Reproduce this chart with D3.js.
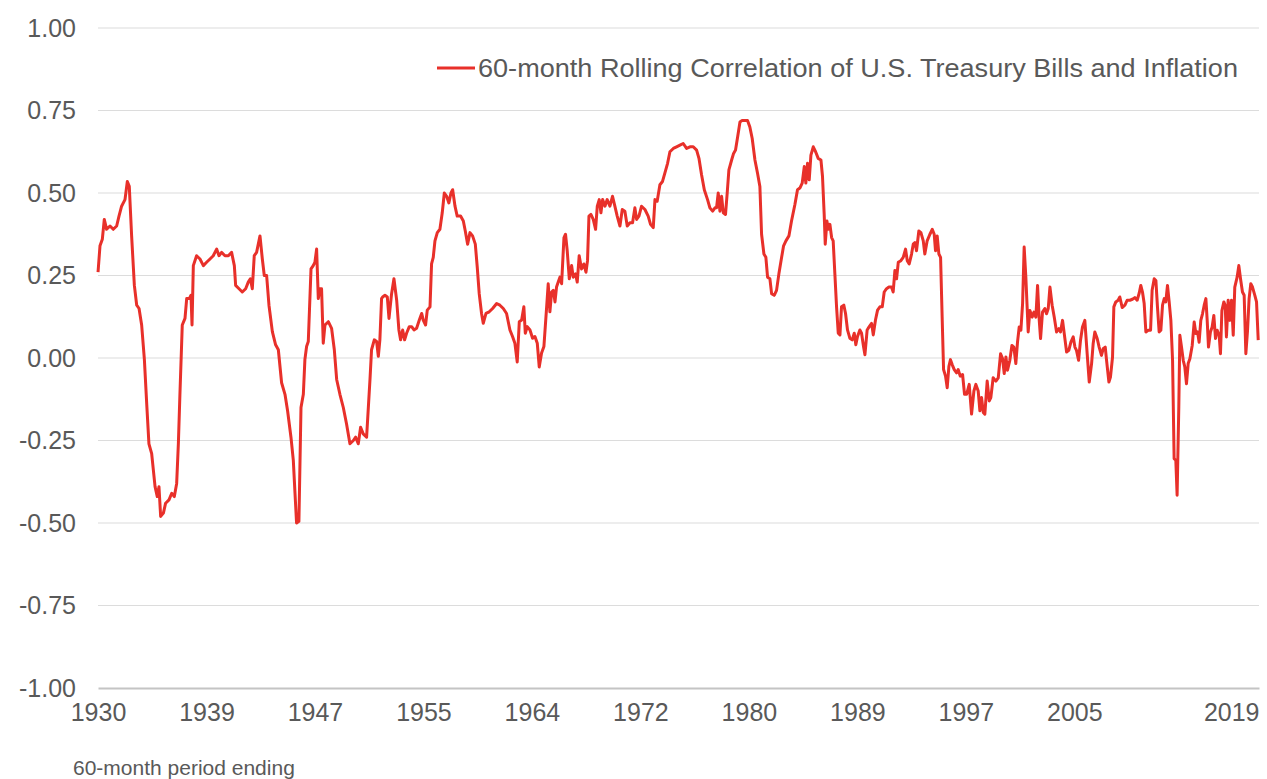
<!DOCTYPE html>
<html>
<head>
<meta charset="utf-8">
<script src="https://cdn.jsdelivr.net/npm/d3@7"></script>
<style>
  body { margin: 0; background: #fff; }
  svg { display: block; font-family: "Liberation Sans", Arial, sans-serif; }
</style>
</head>
<body>
<svg id="chart" width="1267" height="779"></svg>
<script>
// 60-month rolling correlation (decimal year of period end, value)
const years = [
  1930.92, 1931.07, 1931.25, 1931.40, 1931.58, 1931.84, 1932.09, 1932.35, 1932.53, 1932.73, 1932.99, 1933.17, 1933.32, 1933.50,
  1933.71, 1933.89, 1934.07, 1934.27, 1934.48, 1934.66, 1934.83, 1935.04, 1935.30, 1935.47, 1935.60, 1935.73, 1935.94, 1936.11,
  1936.37, 1936.58, 1936.78, 1936.96, 1937.09, 1937.21, 1937.39, 1937.60, 1937.73, 1937.93, 1938.06, 1938.14, 1938.24, 1938.49,
  1938.75, 1939.01, 1939.26, 1939.52, 1939.77, 1940.03, 1940.21, 1940.41, 1940.67, 1940.93, 1941.18, 1941.39, 1941.49, 1941.75,
  1942.00, 1942.26, 1942.46, 1942.62, 1942.77, 1942.92, 1943.10, 1943.36, 1943.54, 1943.69, 1943.87, 1944.05, 1944.31, 1944.56,
  1944.77, 1945.02, 1945.28, 1945.48, 1945.74, 1945.92, 1946.05, 1946.17, 1946.35, 1946.51, 1946.69, 1946.81, 1946.94, 1947.07,
  1947.28, 1947.45, 1947.58, 1947.71, 1947.84, 1947.97, 1948.09, 1948.22, 1948.35, 1948.61, 1948.86, 1949.07, 1949.25, 1949.50,
  1949.76, 1950.01, 1950.27, 1950.53, 1950.71, 1950.91, 1951.09, 1951.29, 1951.55, 1951.81, 1951.93, 1952.14, 1952.32, 1952.45,
  1952.57, 1952.70,
  1952.78, 1952.96, 1953.14, 1953.27, 1953.47, 1953.65, 1953.86, 1954.03, 1954.16, 1954.32, 1954.47, 1954.62, 1954.83, 1955.01,
  1955.19, 1955.39, 1955.60, 1955.78, 1955.90, 1956.08, 1956.21, 1956.42, 1956.54, 1956.67, 1956.80, 1956.98, 1957.18, 1957.36,
  1957.52, 1957.70, 1957.87, 1958.03, 1958.16, 1958.34, 1958.51, 1958.77, 1958.98, 1959.13, 1959.31, 1959.49, 1959.69, 1959.90,
  1960.05, 1960.20, 1960.38, 1960.51, 1960.72, 1960.97, 1961.23, 1961.54, 1961.79, 1962.05, 1962.30, 1962.56, 1962.76, 1962.94,
  1963.12, 1963.28, 1963.46, 1963.63, 1963.74, 1963.89, 1964.10, 1964.30, 1964.48, 1964.66, 1964.81, 1964.99, 1965.17, 1965.38,
  1965.50, 1965.63, 1965.76, 1965.89, 1966.02, 1966.14, 1966.27, 1966.40, 1966.53, 1966.71, 1966.83, 1966.96, 1967.12, 1967.30,
  1967.42, 1967.60, 1967.73, 1967.88, 1968.06, 1968.24, 1968.40, 1968.52, 1968.63, 1968.78, 1968.96, 1969.14, 1969.27, 1969.42,
  1969.55, 1969.68, 1969.86, 1970.03, 1970.24, 1970.44, 1970.62, 1970.80, 1971.01, 1971.19, 1971.39, 1971.57, 1971.78, 1971.98,
  1972.16, 1972.29, 1972.47, 1972.67, 1972.93, 1973.18, 1973.36, 1973.57, 1973.70, 1973.87, 1974.08, 1974.28, 1974.46,
  1974.67, 1974.85, 1975.11, 1975.36, 1975.62, 1975.87, 1976.13, 1976.39, 1976.64, 1976.90, 1977.08, 1977.28, 1977.49, 1977.74,
  1977.92, 1978.13, 1978.31, 1978.43, 1978.56, 1978.69, 1978.82, 1978.95, 1979.12, 1979.25, 1979.38, 1979.59, 1979.74, 1979.89,
  1980.05, 1980.23, 1980.40, 1980.61, 1980.81, 1980.99, 1981.17, 1981.38, 1981.58, 1981.76, 1981.89, 1982.07, 1982.22, 1982.35,
  1982.53, 1982.66, 1982.86, 1983.04, 1983.22, 1983.43, 1983.58, 1983.76, 1983.99, 1984.19, 1984.45, 1984.65, 1984.83, 1985.01,
  1985.17, 1985.29, 1985.42, 1985.55, 1985.68, 1985.86, 1986.04, 1986.24, 1986.45, 1986.57, 1986.70, 1986.78, 1986.91, 1987.01,
  1987.14, 1987.27, 1987.39, 1987.52, 1987.65, 1987.78, 1987.91, 1988.03, 1988.21, 1988.34, 1988.49, 1988.67, 1988.85, 1989.01,
  1989.13, 1989.26, 1989.44, 1989.57, 1989.72, 1989.83, 1990.00, 1990.16, 1990.34, 1990.47, 1990.64, 1990.80, 1990.98, 1991.16,
  1991.31, 1991.49, 1991.67, 1991.87, 1992.00, 1992.13, 1992.26, 1992.39, 1992.59, 1992.77, 1992.95, 1993.08, 1993.23, 1993.41,
  1993.54, 1993.67, 1993.79, 1993.97, 1994.13, 1994.31, 1994.43, 1994.61, 1994.82, 1995.00, 1995.15, 1995.25, 1995.38, 1995.51,
  1995.64, 1995.76, 1995.87, 1996.02, 1996.15, 1996.28, 1996.40, 1996.53, 1996.69, 1996.87, 1996.99, 1997.15,
  1997.33, 1997.48, 1997.64, 1997.84, 1998.02, 1998.20, 1998.35, 1998.53, 1998.66, 1998.79, 1998.92, 1999.04, 1999.22, 1999.38,
  1999.50, 1999.68, 1999.89, 2000.07, 2000.25, 2000.40, 2000.53, 2000.66, 2000.78, 2000.96, 2001.12, 2001.27, 2001.42, 2001.55,
  2001.68, 2001.81, 2001.94, 2002.06, 2002.19, 2002.37, 2002.50, 2002.68, 2002.81, 2002.96, 2003.09, 2003.22, 2003.32, 2003.47,
  2003.65, 2003.78, 2003.91, 2004.04, 2004.21, 2004.37, 2004.55, 2004.73, 2004.85, 2005.01, 2005.14, 2005.32, 2005.49, 2005.65,
  2005.83, 2005.96, 2006.08, 2006.24, 2006.39, 2006.54, 2006.72, 2006.90, 2007.06, 2007.24, 2007.36, 2007.49, 2007.67, 2007.82,
  2008.00, 2008.13, 2008.29, 2008.39, 2008.57, 2008.69, 2008.85, 2008.95, 2009.10, 2009.28, 2009.41, 2009.59, 2009.80, 2009.97,
  2010.18, 2010.38, 2010.56, 2010.74, 2010.90, 2011.02, 2011.15, 2011.28, 2011.41, 2011.59, 2011.77, 2011.89, 2012.05, 2012.18,
  2012.30, 2012.43, 2012.56, 2012.69, 2012.82, 2012.94, 2013.07, 2013.20, 2013.33, 2013.46, 2013.58, 2013.71, 2013.81, 2013.94,
  2014.02, 2014.15, 2014.28, 2014.40, 2014.53, 2014.66, 2014.79, 2014.97, 2015.12, 2015.25, 2015.38, 2015.50, 2015.63, 2015.76,
  2015.89, 2016.02, 2016.12, 2016.22, 2016.37, 2016.50, 2016.63, 2016.76, 2016.89, 2017.04, 2017.14, 2017.25, 2017.40, 2017.50,
  2017.60, 2017.73, 2017.86, 2017.99, 2018.12, 2018.24, 2018.42, 2018.55, 2018.68, 2018.83, 2018.96, 2019.09, 2019.22, 2019.34,
  2019.47, 2019.60, 2019.78, 2019.91, 2020.04
];
const corr = [
  0.26, 0.34, 0.36, 0.42, 0.39, 0.40, 0.39, 0.40, 0.43, 0.46, 0.48, 0.535, 0.52, 0.37,
  0.22, 0.16, 0.15, 0.10, -0.005, -0.14, -0.26, -0.29, -0.39, -0.42, -0.39, -0.48, -0.47, -0.44,
  -0.43, -0.41, -0.42, -0.38, -0.26, -0.11, 0.10, 0.12, 0.18, 0.18, 0.19, 0.10, 0.28, 0.31,
  0.30, 0.28, 0.29, 0.30, 0.31, 0.33, 0.31, 0.32, 0.31, 0.31, 0.32, 0.28, 0.22, 0.21,
  0.20, 0.21, 0.23, 0.24, 0.21, 0.31, 0.32, 0.37, 0.30, 0.25, 0.25, 0.16, 0.08, 0.04,
  0.025, -0.075, -0.11, -0.16, -0.24, -0.31, -0.41, -0.50, -0.495, -0.15, -0.11, -0.005, 0.035, 0.05,
  0.27, 0.28, 0.29, 0.33, 0.18, 0.21, 0.21, 0.045, 0.10, 0.11, 0.09, 0.025, -0.065, -0.11,
  -0.15, -0.20, -0.26, -0.25, -0.24, -0.26, -0.21, -0.23, -0.24, -0.065, 0.025, 0.055, 0.05, 0.005,
  0.055, 0.18,
  0.185, 0.19, 0.185, 0.12, 0.195, 0.24, 0.175, 0.085, 0.055, 0.085, 0.055, 0.075, 0.095, 0.095,
  0.085, 0.09, 0.115, 0.135, 0.115, 0.10, 0.145, 0.155, 0.285, 0.305, 0.355, 0.38, 0.39, 0.44,
  0.50, 0.49, 0.47, 0.50, 0.51, 0.46, 0.43, 0.43, 0.415, 0.385, 0.345, 0.38, 0.37, 0.345,
  0.275, 0.195, 0.135, 0.105, 0.135, 0.14, 0.15, 0.165, 0.16, 0.15, 0.135, 0.085, 0.065, 0.045,
  -0.012, 0.11, 0.115, 0.155, 0.075, 0.095, 0.085, 0.06, 0.065, 0.045, -0.027, 0.015, 0.035, 0.155,
  0.225, 0.14, 0.20, 0.205, 0.17, 0.215, 0.23, 0.245, 0.225, 0.365, 0.375, 0.325, 0.24, 0.28,
  0.245, 0.255, 0.23, 0.31, 0.27, 0.285, 0.26, 0.295, 0.43, 0.435, 0.42, 0.39, 0.46, 0.48,
  0.44, 0.48, 0.46, 0.48, 0.46, 0.49, 0.46, 0.43, 0.40, 0.45, 0.445, 0.40, 0.41, 0.41,
  0.455, 0.42, 0.43, 0.46, 0.45, 0.43, 0.405, 0.395, 0.48, 0.475, 0.525, 0.535, 0.56,
  0.59, 0.625, 0.635, 0.64, 0.645, 0.65, 0.635, 0.64, 0.64, 0.63, 0.605, 0.555, 0.51, 0.48,
  0.455, 0.445, 0.455, 0.455, 0.50, 0.445, 0.49, 0.44, 0.435, 0.50, 0.57, 0.60, 0.62, 0.63,
  0.67, 0.715, 0.72, 0.72, 0.72, 0.70, 0.665, 0.60, 0.56, 0.52, 0.375, 0.315, 0.305, 0.245,
  0.24, 0.195, 0.19, 0.205, 0.255, 0.305, 0.34, 0.355, 0.37, 0.415, 0.465, 0.51, 0.515, 0.53,
  0.58, 0.53, 0.59, 0.54, 0.615, 0.64, 0.625, 0.605, 0.60, 0.55, 0.435, 0.345, 0.415, 0.39,
  0.405, 0.365, 0.355, 0.255, 0.155, 0.075, 0.07, 0.155, 0.16, 0.135, 0.085, 0.06, 0.055, 0.075,
  0.04, 0.065, 0.085, 0.075, 0.035, 0.01, 0.085, 0.095, 0.105, 0.07, 0.115, 0.145, 0.155, 0.155,
  0.20, 0.21, 0.215, 0.215, 0.20, 0.265, 0.24, 0.29, 0.295, 0.305, 0.33, 0.295, 0.285, 0.315,
  0.345, 0.35, 0.325, 0.385, 0.38, 0.355, 0.315, 0.355, 0.375, 0.39, 0.375, 0.325, 0.37, 0.315,
  0.305, 0.125, -0.035, -0.055, -0.09, -0.025, -0.005, -0.02, -0.035, -0.045, -0.035, -0.055,
  -0.05, -0.11, -0.11, -0.08, -0.17, -0.10, -0.08, -0.10, -0.16, -0.12, -0.165, -0.17, -0.07, -0.13,
  -0.12, -0.06, -0.07, -0.06, 0.013, -0.002, -0.047, 0.003, -0.037, -0.007, 0.038, 0.033, -0.017, 0.048,
  0.094, 0.084, 0.165, 0.336, 0.245, 0.079, 0.144, 0.124, 0.139, 0.124, 0.22, 0.114, 0.059, 0.139,
  0.15, 0.134, 0.15, 0.215, 0.16, 0.124, 0.079, 0.089, 0.079, 0.114, 0.074, 0.018, 0.023, 0.048,
  0.064, 0.033, 0.023, -0.007, 0.054, 0.094, 0.114, 0.013, -0.073, -0.017, 0.043, 0.079, 0.059, 0.033,
  0.008, 0.028, 0.033, -0.007, -0.073, -0.058, 0.003, 0.155, 0.17, 0.175, 0.185, 0.153, 0.16, 0.175,
  0.175, 0.178, 0.183, 0.175, 0.197, 0.22, 0.20, 0.165, 0.079, 0.084, 0.084, 0.205, 0.24, 0.235,
  0.155, 0.079, 0.084, 0.16, 0.18, 0.17, 0.22, 0.17, 0.114, -0.007, -0.305, -0.31, -0.416, -0.148,
  0.069, 0.033, -0.007, -0.027, -0.078, -0.017, -0.002, 0.038, 0.109, 0.074, 0.079, 0.048, 0.114, 0.134,
  0.16, 0.18, 0.114, 0.033, 0.079, 0.094, 0.129, 0.059, 0.084, 0.069, 0.013, 0.144, 0.17, 0.16,
  0.064, 0.175, 0.114, 0.175, 0.069, 0.215, 0.245, 0.28, 0.24, 0.20, 0.19, 0.013, 0.084, 0.18,
  0.225, 0.215, 0.19, 0.17, 0.054
];

const yTicks = [1, 0.75, 0.5, 0.25, 0, -0.25, -0.5, -0.75, -1];
// category labels fall every 100 months from Dec 1930; the last one sits at the end
const xTickYears = [1930.917, 1939.25, 1947.583, 1955.917, 1964.25, 1972.583, 1980.917, 1989.25, 1997.583, 2005.917];
const xTickLabels = ['1930', '1939', '1947', '1955', '1964', '1972', '1980', '1989', '1997', '2005'];
const lastLabel = '2019';
const seriesName = '60-month Rolling Correlation of U.S. Treasury Bills and Inflation';
const xTitle = '60-month period ending';

const textColor = '#595959';
const lineColor = '#e8302a';

const svg = d3.select('#chart');
const margin = { left: 98, right: 8, top: 28, bottom: 91 };
const W = +svg.attr('width'), H = +svg.attr('height');

const x = d3.scaleLinear().domain([1930.917, 2020.1]).range([margin.left, W - margin.right]);
const y = d3.scaleLinear().domain([-1, 1]).range([H - margin.bottom, margin.top]);

// plain hyphen for negatives, like the original
const fmt = d => d3.format('.2f')(d).replace('\u2212', '-');

// gridlines
svg.append('g')
    .selectAll('line')
    .data(yTicks.filter(d => d !== -1))
    .join('line')
    .attr('x1', x.range()[0]).attr('x2', x.range()[1])
    .attr('y1', d => y(d)).attr('y2', d => y(d))
    .attr('stroke', '#dcdcdc').attr('stroke-width', 1.2);

// y axis labels
const yAxis = svg.append('g')
    .attr('transform', `translate(${margin.left - 22},0)`)
    .call(d3.axisLeft(y).tickValues(yTicks).tickFormat(fmt).tickSize(0));
yAxis.select('.domain').remove();
yAxis.selectAll('text')
    .attr('fill', textColor)
    .attr('font-size', 25)
    .attr('x', 0)
    .attr('font-family', '"Liberation Sans", Arial, sans-serif');

// x axis
const xAxis = svg.append('g')
    .attr('transform', `translate(0,${y(-1)})`)
    .call(d3.axisBottom(x).tickValues([...xTickYears, x.domain()[1]])
        .tickFormat((d, i) => i < xTickLabels.length ? xTickLabels[i] : lastLabel)
        .tickSize(0).tickPadding(15));
xAxis.select('.domain')
    .attr('stroke', '#c4c4c4').attr('stroke-width', 2);
xAxis.selectAll('text')
    .attr('fill', textColor)
    .attr('font-size', 25)
    .attr('font-family', '"Liberation Sans", Arial, sans-serif');
xAxis.selectAll('.tick').filter((d, i) => i === xTickLabels.length)
    .select('text').attr('text-anchor', 'end');

// the series
const line = d3.line()
    .x((d, i) => x(years[i]))
    .y(d => y(d));

svg.append('path')
    .datum(corr)
    .attr('d', line)
    .attr('fill', 'none')
    .attr('stroke', lineColor)
    .attr('stroke-width', 3)
    .attr('stroke-linejoin', 'round');

// legend
const legend = svg.append('g').attr('transform', 'translate(437,68)');
legend.append('line')
    .attr('x1', 0).attr('x2', 38)
    .attr('stroke', lineColor).attr('stroke-width', 3);
legend.append('text')
    .attr('x', 41).attr('dy', '0.35em')
    .attr('fill', textColor)
    .attr('font-size', 25)
    .attr('textLength', 760)
    .attr('lengthAdjust', 'spacingAndGlyphs')
    .text(seriesName);

svg.append('text')
    .attr('x', 73).attr('y', 775)
    .attr('fill', textColor)
    .attr('font-size', 21)
    .text(xTitle);
</script>
</body>
</html>
